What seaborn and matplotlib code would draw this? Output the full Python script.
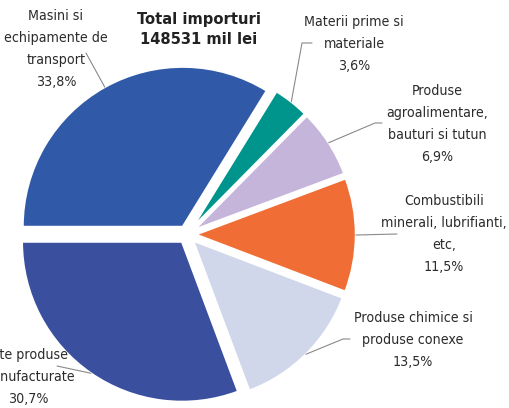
import numpy as np
import matplotlib
matplotlib.use('Agg')
import matplotlib.pyplot as plt
import seaborn as sns

# slices, drawn counter-clockwise starting at 9 o'clock
LABELS = [
    "Alte produse\nmanufacturate",
    "Produse chimice si\nproduse conexe",
    "Combustibili\nminerali, lubrifianti,\netc.",
    "Produse\nagroalimentare,\nbauturi si tutun",
    "Materii prime si\nmateriale",
    "Masini si\nechipamente de\ntransport",
]
SHARES = [30.7, 13.5, 11.5, 6.9, 3.6, 33.8]
COLORS = ["#3A4F9E", "#D1D7EB", "#F06E35", "#C6B5DA", "#00958C", "#3059A8"]
TITLE = "Total importuri\n148531 mil lei"

# label block centres and leader paths (pixels of the 509x408 image)
LABEL_POS = [(28, 377), (413, 340), (444, 234), (437, 124), (354, 44), (56, 49)]
LEADER_PTS = [
    [(57, 366)],
    [(350, 339), (343, 339)],
    [(397, 234)],
    [(382, 123), (375, 123)],
    [(312, 43), (302, 43)],
    [(86, 53)],
]

SCALE = 160.0          # px per unit radius
CX, CY = 187.0, 234.5  # pie centre in px


def px(p):
    return ((p[0] - CX) / SCALE, (CY - p[1]) / SCALE)


sns.set_style("white")
plt.rcParams['font.family'] = ['DejaVu Sans']
plt.rcParams['font.stretch'] = 'condensed'

fig = plt.figure(figsize=(5.09, 4.08), dpi=100)
ax = fig.add_axes([0, 0, 1, 1])

wedges, _ = ax.pie(
    SHARES,
    colors=sns.color_palette(COLORS),
    startangle=180,
    counterclock=True,
    explode=[0.055] * len(SHARES),
    radius=1.0,
    wedgeprops=dict(edgecolor="white", linewidth=1.5),
)
ax.set_xlim(-CX / SCALE, (509 - CX) / SCALE)
ax.set_ylim((CY - 408) / SCALE, CY / SCALE)
ax.set_aspect('equal')
ax.axis('off')

for w, lab, val, pos, pts in zip(wedges, LABELS, SHARES, LABEL_POS, LEADER_PTS):
    mid = np.deg2rad((w.theta1 + w.theta2) / 2)
    cx, cy = w.center
    start = (cx + w.r * np.cos(mid), cy + w.r * np.sin(mid))
    path = [px(p) for p in pts] + [start]
    xs, ys = zip(*path)
    ax.plot(xs, ys, color="#8a8a8a", lw=0.8)
    tx, ty = px(pos)
    txt = f"{lab}\n{val:.1f}%".replace(".", ",")
    ax.text(tx, ty, txt, ha="center", va="center", fontsize=10.2,
            color="#2b2b2b", linespacing=1.72)

tx, ty = px((199, 29.5))
ax.text(tx, ty, TITLE, ha="center", va="center", fontsize=11.8,
        fontweight="bold", color="#222222", linespacing=1.45)

fig.savefig("out.png", dpi=100)
